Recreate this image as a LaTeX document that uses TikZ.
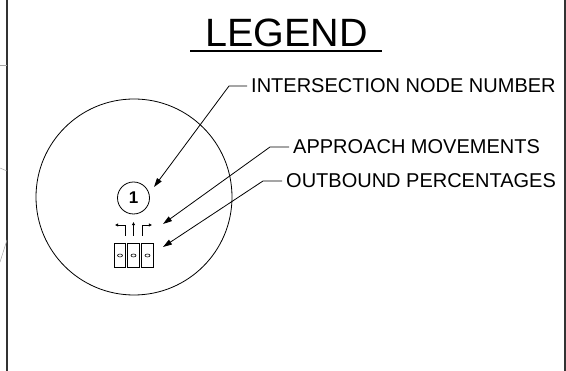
\documentclass[tikz,border=0pt]{standalone}
\usepackage{fontspec}
\setmainfont{Liberation Sans}
\usetikzlibrary{arrows.meta}

\begin{document}
\begin{tikzpicture}[
  x=1pt,y=-1pt,
  frame/.style={line width=1.6pt,draw=black!80},
  offsheet/.style={line width=0.5pt,draw=black!35},
  legendtext/.style={inner sep=4pt,anchor=west,font=\fontsize{20}{21}\selectfont},
  leader/.style={line width=0.8pt,-{Triangle[length=9pt,width=5.5pt]}},
  turn/.style={line width=0.7pt,-{Triangle[length=3.2pt,width=3pt]}},
  pctbox/.style={draw,line width=0.7pt,minimum width=11.5pt,minimum height=24pt,inner sep=0pt}
]
  \useasboundingbox (0,0) rectangle (566,371);

  % sheet frame and neighbouring linework
  \draw[frame] (7,0) -- (7,371);
  \draw[frame] (565,0) -- (565,371);
  \draw[offsheet] (0,65) -- (7,65);
  \draw[offsheet] (0,168) -- (7,171);
  \draw[offsheet] (0,262) -- (7,240);

  % title
  \node[inner sep=0pt,font=\fontsize{39.5}{40}\selectfont] (title) at (286.5,32.5) {LEGEND};
  \draw[line width=1.4pt] (190,51) -- (382,51);

  % detail bubble
  \node[circle,draw,line width=0.8pt,minimum size=196pt,inner sep=0pt] (bubble) at (134,197) {};
  \node[circle,draw,line width=0.8pt,minimum size=32pt,inner sep=0pt,font=\bfseries\fontsize{17}{17}\selectfont] (nodenum) at (133.5,198) {1};

  % approach movements
  \coordinate (lt) at (125,236);
  \coordinate (th) at (133.5,236);
  \coordinate (rt) at (142,236);
  \draw[turn] (lt) -- ++(0,-11) -- ++(-10,0);
  \draw[turn] (th) -- ++(0,-14);
  \draw[turn] (rt) -- ++(0,-11) -- ++(10,0);

  % outbound percentages
  \foreach \name/\cx in {pleft/120,pthru/133.5,pright/147.5}{
    \node[pctbox] (\name) at (\cx,255) {};
    \draw[line width=0.6pt] (\cx,255.5) ellipse (2.5pt and 1.5pt);
  }

  % labels
  \node[legendtext] (lblnum) at (247,86) {INTERSECTION NODE NUMBER};
  \node[legendtext] (lblmove) at (289,147) {APPROACH MOVEMENTS};
  \node[legendtext] (lblpct) at (282,181) {OUTBOUND PERCENTAGES};

  \coordinate (numtip) at (154,187);
  \coordinate (movetip) at (163,224);
  \coordinate (pcttip) at (163,247);

  \draw[leader] (lblnum.west) -- ++(-18,0) -- (numtip);
  \draw[leader] (lblmove.west) -- ++(-19,0) -- (movetip);
  \draw[leader] (lblpct.west) -- ++(-19,0) -- (pcttip);
\end{tikzpicture}
\end{document}
